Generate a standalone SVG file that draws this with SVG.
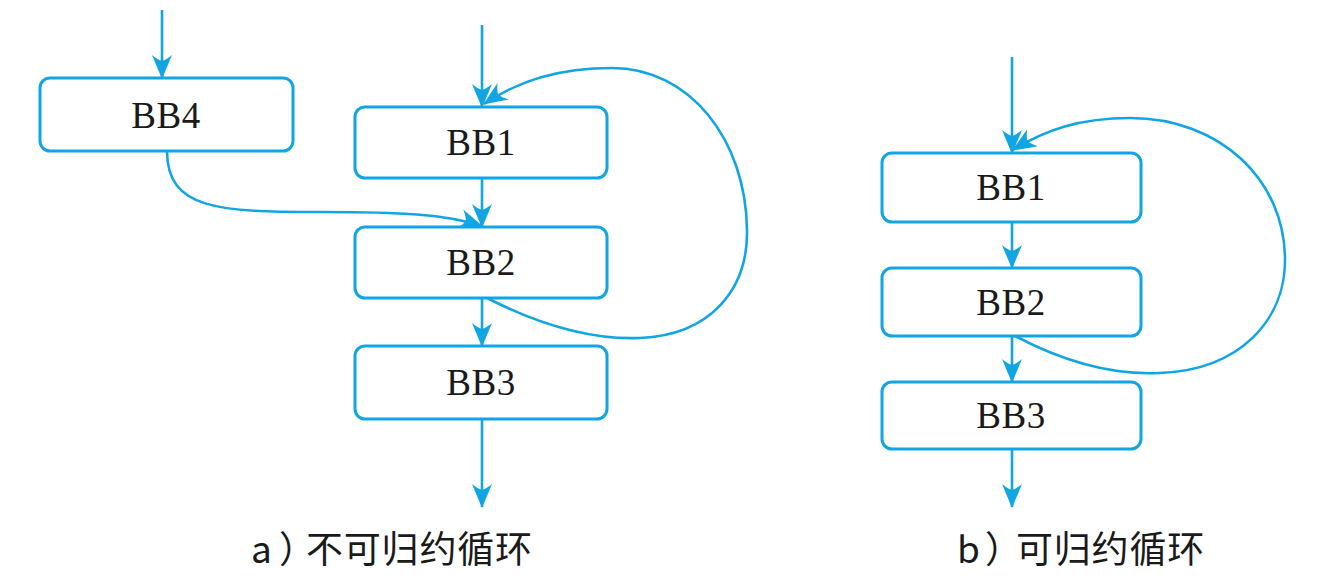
<svg xmlns="http://www.w3.org/2000/svg" width="1339" height="582" viewBox="0 0 1339 582">
<style>
.box{fill:#fff;stroke:#12a5e3;stroke-width:3}
.edge{fill:none;stroke:#12a5e3;stroke-width:2.6}
.lbl{font-family:"Liberation Serif","Times New Roman",serif;font-size:37px;fill:#1a1a1a;text-anchor:middle;letter-spacing:0.5px}
.cap{font-family:"Noto Sans CJK SC","Noto Sans",sans-serif;font-size:37px;fill:#1a1a1a}
</style>
<defs>
<marker id="ah" viewBox="0 0 24 20" refX="23" refY="10" markerWidth="24" markerHeight="20" markerUnits="userSpaceOnUse" orient="auto">
<path d="M24,10 L0,0 Q5,6 6,10 Q5,14 0,20 Z" fill="#12a5e3"/>
</marker>
</defs>
<rect width="1339" height="582" fill="#fff"/>
<g id="connectors">
<path class="edge" marker-end="url(#ah)" d="M162,10 L162,78"/>
<path class="edge" marker-end="url(#ah)" d="M482,25 L482,107"/>
<path class="edge" marker-end="url(#ah)" d="M482,178 L482,227"/>
<path class="edge" marker-end="url(#ah)" d="M482,298 L482,346"/>
<path class="edge" marker-end="url(#ah)" d="M482,419 L482,507"/>
<path class="edge" marker-end="url(#ah)" d="M167,151 C167,210 220,212 320,212 C400,212 445,214 482,226"/>
<path class="edge" marker-end="url(#ah)" d="M487,298 C540,325 590,340 640,338 C710,335 748,290 747,230 C746,140 690,68 612,68 C560,68 520,80 484,104"/>
<path class="edge" marker-end="url(#ah)" d="M1012,57 L1012,153"/>
<path class="edge" marker-end="url(#ah)" d="M1012,222 L1012,268"/>
<path class="edge" marker-end="url(#ah)" d="M1012,336 L1012,382"/>
<path class="edge" marker-end="url(#ah)" d="M1012,449 L1012,507"/>
<path class="edge" marker-end="url(#ah)" d="M1015,336 C1070,365 1120,375 1160,373 C1240,370 1285,320 1285,260 C1285,180 1220,118 1130,118 C1080,118 1045,130 1013,150"/>
</g>
<g id="a-BB4"><rect class="box" x="40" y="78" width="253" height="73" rx="10"/><text class="lbl" x="166" y="128">BB4</text></g>
<g id="a-BB1"><rect class="box" x="355" y="107" width="252" height="71" rx="10"/><text class="lbl" x="481" y="155">BB1</text></g>
<g id="a-BB2"><rect class="box" x="355" y="227" width="252" height="71" rx="10"/><text class="lbl" x="481" y="275">BB2</text></g>
<g id="a-BB3"><rect class="box" x="355" y="346" width="252" height="73" rx="10"/><text class="lbl" x="481" y="395">BB3</text></g>
<g id="b-BB1"><rect class="box" x="882" y="153" width="259" height="69" rx="10"/><text class="lbl" x="1011" y="200">BB1</text></g>
<g id="b-BB2"><rect class="box" x="882" y="268" width="259" height="68" rx="10"/><text class="lbl" x="1011" y="315">BB2</text></g>
<g id="b-BB3"><rect class="box" x="882" y="382" width="259" height="67" rx="10"/><text class="lbl" x="1011" y="428">BB3</text></g>
<g id="captions">
<text class="cap" y="563" x="251 279 306 343.8 381.6 419.4 457.2 495">a）不可归约循环</text>
<text class="cap" y="563" x="957 985 1016 1053.8 1091.6 1129.4 1167.2">b）可归约循环</text>
</g>
</svg>
